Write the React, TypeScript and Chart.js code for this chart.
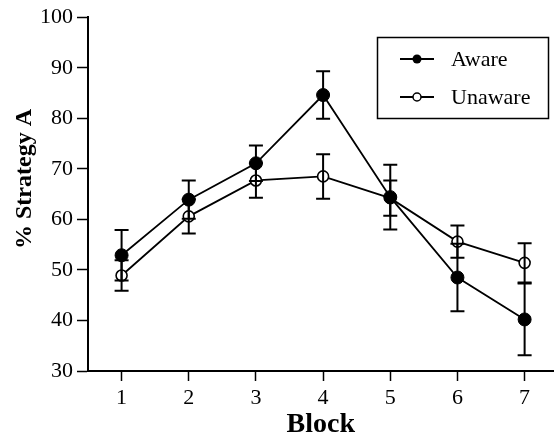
import React, { useEffect, useRef } from 'react';
import { Chart, registerables } from 'chart.js';

Chart.register(...registerables);

const FONT = '"Liberation Serif", "Times New Roman", serif';

const blocks = [1, 2, 3, 4, 5, 6, 7];
const awareMeans = [52.9, 63.9, 71.1, 84.6, 64.4, 48.5, 40.2];
const awareErr = [5.0, 3.8, 3.5, 4.7, 6.4, 6.7, 7.1];
const unawareMeans = [48.9, 60.6, 67.7, 68.5, 64.2, 55.6, 51.4];
const unawareErr = [3.0, 3.4, 3.4, 4.4, 3.5, 3.2, 3.9];
const yTicks = [30, 40, 50, 60, 70, 80, 90, 100];
const seriesLabels = ['Aware', 'Unaware'];
const xTitle = 'Block';
const yTitle = '% Strategy A';

export default function App() {
  const ref = useRef<HTMLCanvasElement>(null);

  useEffect(() => {
    if (!ref.current) return;
    const errorSets = [
      { means: awareMeans, errs: awareErr },
      { means: unawareMeans, errs: unawareErr },
    ];

    const errorBars = {
      id: 'errorBars',
      afterDatasetsDraw(chart: any) {
        const { ctx, scales } = chart;
        const xs = scales.x;
        const ys = scales.y;
        ctx.save();
        ctx.strokeStyle = '#000';
        ctx.lineWidth = 2;
        errorSets.forEach((s) => {
          blocks.forEach((b, i) => {
            const x = xs.getPixelForValue(b);
            const yTop = ys.getPixelForValue(s.means[i] + s.errs[i]);
            const yBot = ys.getPixelForValue(s.means[i] - s.errs[i]);
            ctx.beginPath();
            ctx.moveTo(x, yTop);
            ctx.lineTo(x, yBot);
            ctx.moveTo(x - 7, yTop);
            ctx.lineTo(x + 7, yTop);
            ctx.moveTo(x - 7, yBot);
            ctx.lineTo(x + 7, yBot);
            ctx.stroke();
          });
        });
        ctx.restore();
      },
    };

    const legendBox = {
      id: 'legendBox',
      afterDraw(chart: any) {
        const { ctx } = chart;
        ctx.save();
        ctx.strokeStyle = '#000';
        ctx.lineWidth = 1.5;
        ctx.strokeRect(377.5, 37.5, 171, 81);
        const rows = [59, 97];
        rows.forEach((y, i) => {
          ctx.beginPath();
          ctx.lineWidth = 1.8;
          ctx.moveTo(400, y);
          ctx.lineTo(434, y);
          ctx.stroke();
          ctx.beginPath();
          if (i === 0) {
            ctx.arc(417, y, 4.5, 0, Math.PI * 2);
            ctx.fillStyle = '#000';
            ctx.fill();
          } else {
            ctx.arc(417, y, 4, 0, Math.PI * 2);
            ctx.fillStyle = '#fff';
            ctx.fill();
            ctx.lineWidth = 1.5;
            ctx.stroke();
          }
          ctx.fillStyle = '#000';
          ctx.font = `22px ${FONT}`;
          ctx.textAlign = 'left';
          ctx.textBaseline = 'middle';
          ctx.fillText(seriesLabels[i], 451, y + 1);
        });
        ctx.restore();
      },
    };

    const yTitlePlugin = {
      id: 'yTitle',
      afterDraw(chart: any) {
        const { ctx } = chart;
        ctx.save();
        ctx.translate(25, 179);
        ctx.rotate(-Math.PI / 2);
        ctx.fillStyle = '#000';
        ctx.font = `bold 24px ${FONT}`;
        ctx.textAlign = 'center';
        ctx.textBaseline = 'middle';
        ctx.fillText(yTitle, 0, 0);
        ctx.restore();
      },
    };

    const chart = new Chart(ref.current, {
      type: 'line',
      data: {
        datasets: [
          {
            label: seriesLabels[0],
            data: blocks.map((b, i) => ({ x: b, y: awareMeans[i] })),
            borderColor: '#000',
            borderWidth: 1.8,
            pointRadius: 6.5,
            pointBackgroundColor: '#000',
            pointBorderColor: '#000',
            pointBorderWidth: 1,
            tension: 0,
          },
          {
            label: seriesLabels[1],
            data: blocks.map((b, i) => ({ x: b, y: unawareMeans[i] })),
            borderColor: '#000',
            borderWidth: 1.8,
            pointRadius: 5.5,
            pointBackgroundColor: '#fff',
            pointBorderColor: '#000',
            pointBorderWidth: 1.6,
            tension: 0,
          },
        ],
      },
      options: {
        responsive: false,
        animation: false,
        layout: { padding: { top: 16, right: 1, left: 0, bottom: 0 } },
        plugins: { legend: { display: false }, tooltip: { enabled: false } },
        scales: {
          x: {
            type: 'linear',
            min: 0.5,
            max: 7.43,
            afterBuildTicks: (s: any) => {
              s.ticks = blocks.map((v) => ({ value: v }));
            },
            afterFit: (s: any) => {
              s.height = 68;
            },
            grid: { drawOnChartArea: false, tickLength: 10, tickColor: '#000', tickWidth: 1.5 },
            border: { color: '#000', width: 2 },
            ticks: {
              font: { family: FONT, size: 22 },
              color: '#000',
              padding: 4,
              maxRotation: 0,
              autoSkip: false,
            },
            title: {
              display: true,
              text: xTitle,
              font: { family: FONT, size: 28, weight: 'bold', lineHeight: 1 },
              color: '#000',
              padding: { top: 0, bottom: 0 },
            },
          },
          y: {
            type: 'linear',
            min: 30,
            max: 100,
            afterBuildTicks: (s: any) => {
              s.ticks = yTicks.map((v) => ({ value: v }));
            },
            afterFit: (s: any) => {
              s.width = 88;
            },
            grid: { drawOnChartArea: false, tickLength: 11, tickColor: '#000', tickWidth: 1.5 },
            border: { color: '#000', width: 2 },
            ticks: {
              font: { family: FONT, size: 22 },
              color: '#000',
              padding: 4,
            },
          },
        },
      },
      plugins: [errorBars, legendBox, yTitlePlugin],
    } as any);
    return () => chart.destroy();
  }, []);

  return (
    <div
      style={{
        position: 'fixed',
        left: 0,
        top: 0,
        width: 554,
        height: 439,
        overflow: 'hidden',
        background: '#fff',
      }}
    >
      <canvas ref={ref} width={561} height={439} style={{ display: 'block' }} />
    </div>
  );
}
